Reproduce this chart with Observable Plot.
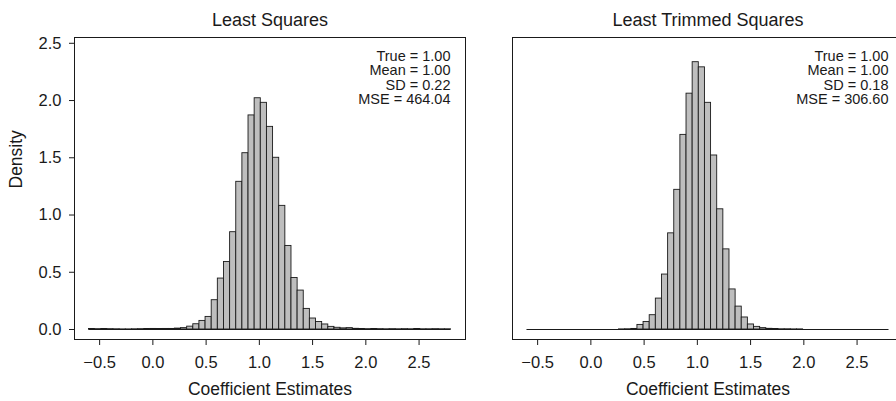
<!DOCTYPE html>
<html><head><meta charset="utf-8">
<script src="https://cdn.jsdelivr.net/npm/d3@7"></script>
<script src="https://cdn.jsdelivr.net/npm/@observablehq/plot@0.6"></script>
<style>
html,body{margin:0;padding:0;background:#fff;overflow:hidden}
#wrap{position:relative;width:896px;height:401px;overflow:hidden;background:#fff}
#wrap svg{position:absolute;top:0}
</style></head><body><div id="wrap"></div>
<script>
const panelTitles = ["Least Squares", "Least Trimmed Squares"];
const breakStart = -0.6, breakEnd = 2.8, binCount = 59;
const lsDensity = [
  0.004, 0.003, 0.004, 0.003, 0.002, 0.001, 0.001, 0.002, 0.003, 0.004,
  0.005, 0.004, 0.005, 0.005, 0.008, 0.012, 0.025, 0.046, 0.075, 0.11,
  0.256, 0.445, 0.59, 0.85, 1.29, 1.54, 1.87, 2.02, 1.98, 1.77,
  1.50, 1.08, 0.73, 0.45, 0.34, 0.18, 0.096, 0.066, 0.044, 0.023,
  0.015, 0.01, 0.012, 0.006, 0.004, 0.003, 0.004, 0.003, 0.002, 0.003,
  0.002, 0.003, 0.002, 0.004, 0.002, 0.002, 0.003, 0.002, 0.002
];
const ltsDensity = [
  0, 0, 0, 0, 0, 0, 0, 0, 0, 0,
  0, 0, 0, 0, 0, 0.001, 0.002, 0.005, 0.04, 0.066,
  0.125, 0.27, 0.48, 0.84, 1.22, 1.70, 2.06, 2.335, 2.29, 1.98,
  1.52, 1.05, 0.70, 0.35, 0.20, 0.105, 0.044, 0.023, 0.012, 0.006,
  0.004, 0.002, 0.002, 0.001, 0.001, 0, 0, 0, 0, 0,
  0, 0, 0, 0, 0, 0, 0, 0, 0
];
const statNames = ["True", "Mean", "SD", "MSE"];
const lsStats = [1.00, 1.00, 0.22, 464.04];
const ltsStats = [1.00, 1.00, 0.18, 306.60];
const xTicks = [-0.5, 0, 0.5, 1, 1.5, 2, 2.5];
const yTicks = [0, 0.5, 1, 1.5, 2, 2.5];
const xLabel = "Coefficient Estimates";
const yLabel = "Density";

const ink = "#1a1a1a";
const fmt = d3.format(".1f");
const edges = d3.range(binCount + 1).map(i => breakStart + i * (breakEnd - breakStart) / binCount);

function panel(title, dens, stats, showY, leftPx) {
  const bins = dens.map((d, i) => ({x1: edges[i], x2: edges[i + 1], d}));
  const note = statNames.map((n, i) => `${n} = ${stats[i].toFixed(2)}`).join("\n");
  const marks = [
    Plot.rectY(bins, {x1: "x1", x2: "x2", y: "d", fill: "#bebebe", stroke: ink, strokeWidth: 0.9}),
    Plot.ruleY([{y: 0, a: breakStart, b: breakEnd}], {y: "y", x1: "a", x2: "b", stroke: ink, strokeWidth: 1}),
    Plot.frame({stroke: ink, strokeWidth: 1}),
    Plot.text([title], {frameAnchor: "top", dy: -17, fontSize: 18, lineAnchor: "middle", fill: ink}),
    Plot.text([note], {frameAnchor: "top-right", dx: -15, dy: 12.8, textAnchor: "end", lineAnchor: "top", lineHeight: 1.0, fontSize: 14.5, fill: ink}),
    Plot.text([xLabel], {frameAnchor: "bottom", dy: 50, fontSize: 17.5, lineAnchor: "middle", fill: ink})
  ];
  if (showY) marks.push(Plot.text([yLabel], {frameAnchor: "left", dx: -58, rotate: -90, fontSize: 17.5, lineAnchor: "middle", fill: ink}));
  const svg = Plot.plot({
    width: 475, height: 401,
    marginLeft: 74, marginRight: 10, marginTop: 37, marginBottom: 62,
    style: {fontFamily: "'Liberation Sans', Arial, sans-serif", fontSize: "16.5px", color: ink, background: "transparent", overflow: "visible", maxWidth: "none"},
    x: {domain: [-0.736, 2.936], ticks: xTicks, tickFormat: fmt, tickSize: 6, tickPadding: 11, label: null},
    y: showY ? {domain: [-0.0873, 2.5506], ticks: yTicks, tickFormat: fmt, tickSize: 5, tickPadding: 8, label: null}
             : {domain: [-0.0873, 2.5506], axis: null},
    marks
  });
  svg.style.left = leftPx + "px";
  return svg;
}

const wrap = document.getElementById("wrap");
wrap.appendChild(panel(panelTitles[0], lsDensity, lsStats, true, 0));
wrap.appendChild(panel(panelTitles[1], ltsDensity, ltsStats, false, 438));
</script></body></html>
